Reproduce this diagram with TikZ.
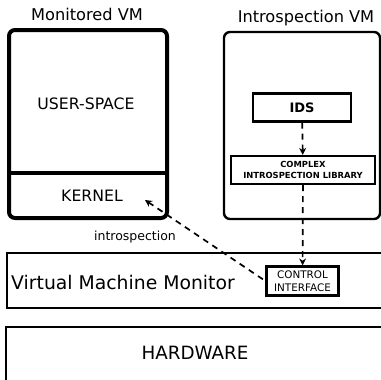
\documentclass[tikz,border=0pt]{standalone}
\usepackage{fontspec}
\setmainfont{DejaVu Sans}
\usepackage{tikz}
\usetikzlibrary{arrows.meta, positioning}

\tikzset{
    vmbox/.style={draw, rounded corners=6pt, inner sep=0pt},
    flatbox/.style={draw, line width=2.2pt, inner sep=0pt},
    flow/.style={dashed, line width=1.7pt, dash pattern=on 6pt off 5pt, -{Stealth[length=7pt, width=7pt]}}
}

\begin{document}
\begin{tikzpicture}[x=1pt, y=-1pt]
    \useasboundingbox (0, 0) rectangle (381, 380);
    \clip (0, 0) rectangle (381, 380);

    % monitored VM
    \node[font=\fontsize{16.2}{17}\selectfont] at (87, 14) {Monitored VM};
    \node[vmbox, line width=4pt, minimum width=158pt, minimum height=188pt] (mvm) at (88, 124) {};
    \draw[line width=3.5pt] (mvm.west |- 0, 173) -- (mvm.east |- 0, 173);
    \node[font=\fontsize{15.7}{16}\selectfont] (uspace) at (86, 104) {USER-SPACE};
    \node[font=\fontsize{15.7}{16}\selectfont] (kernel) at (92, 196) {KERNEL};
    \coordinate (kin) at (145, 200);

    % introspection VM
    \node[font=\fontsize{16.2}{17}\selectfont] at (306, 18) {Introspection VM};
    \node[vmbox, line width=2.4pt, minimum width=156pt, minimum height=187pt] (ivm) at (302, 125.5) {};
    \node[flatbox, minimum width=98pt, minimum height=28pt, font=\fontsize{13}{14}\selectfont\bfseries] (ids) at (302, 107.5) {IDS};
    \node[flatbox, minimum width=144pt, minimum height=28pt, align=center,
          font=\fontsize{8.4}{10.5}\selectfont\bfseries] (lib) at (303, 170)
        {COMPLEX\\ INTROSPECTION LIBRARY};

    % hypervisor
    \node[flatbox, minimum width=392pt, minimum height=55pt, anchor=north west] (vmm) at (6, 252) {};
    \node[font=\fontsize{18.8}{20}\selectfont] at (123, 282) {Virtual Machine Monitor};
    \node[flatbox, minimum width=72pt, minimum height=29pt, align=center,
          font=\fontsize{10.4}{13}\selectfont] (ctrl) at (302.5, 281)
        {CONTROL\\ INTERFACE};

    % hardware
    \node[flatbox, minimum width=392pt, minimum height=80pt, anchor=north west] (hw) at (5, 326) {};
    \node[font=\fontsize{18.3}{20}\selectfont] at (195, 353) {HARDWARE};

    \draw
    (ids) edge[flow] (lib)
    (lib) edge[flow] (ctrl)
    (ctrl.west) edge[flow, shorten <=3pt] (kin);
    \node[font=\fontsize{12.5}{14}\selectfont] at (135, 237) {introspection};
\end{tikzpicture}
\end{document}
